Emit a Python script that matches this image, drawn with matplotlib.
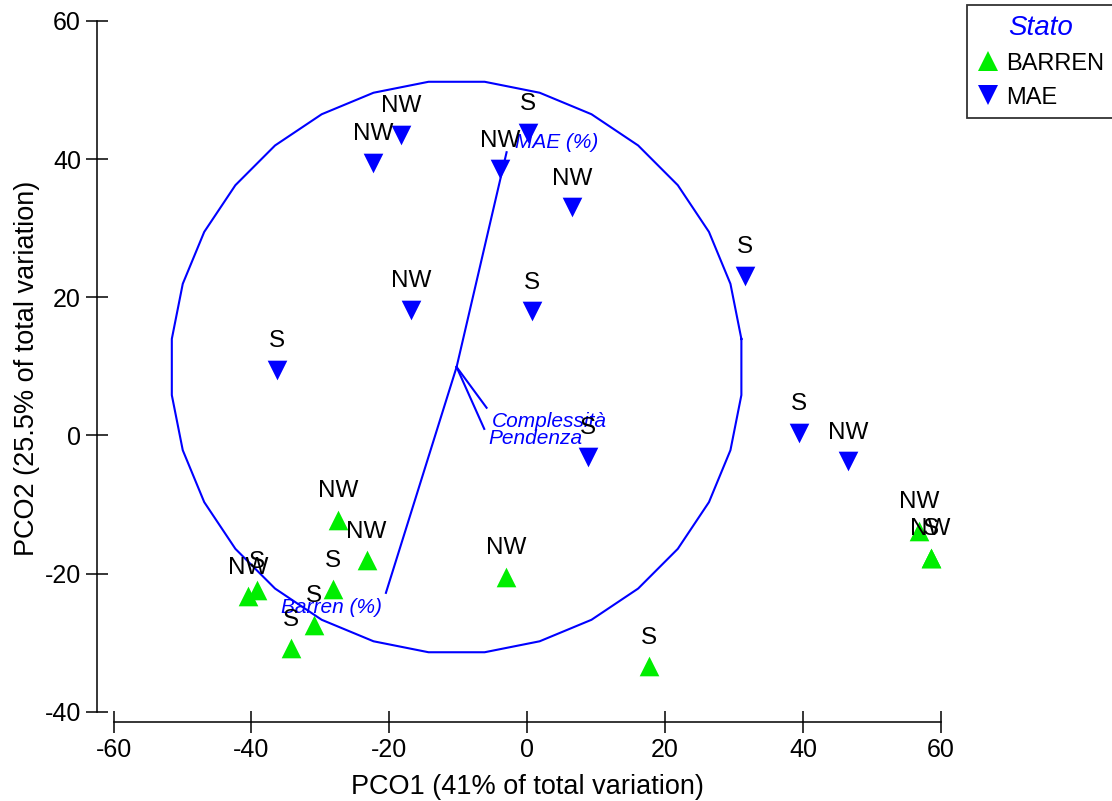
import numpy as np
import matplotlib
matplotlib.use("Agg")
import matplotlib.pyplot as plt
from matplotlib.lines import Line2D

plt.rcParams['font.family'] = ['Liberation Sans', 'DejaVu Sans']
plt.rcParams['axes.unicode_minus'] = False

# PCO scores (MAE = down triangles, BARREN = up triangles)
mae_x = [-18.3, -22.4, 0.1, -3.9, 6.5, 31.6, -16.9, 0.7, -36.3, 8.8, 39.4, 46.5]
mae_y = [43.5, 39.5, 43.8, 38.5, 33.0, 23.1, 18.2, 18.0, 9.5, -3.1, 0.4, -3.75]
mae_lab = ['NW', 'NW', 'S', 'NW', 'NW', 'S', 'NW', 'S', 'S', 'S', 'S', 'NW']

barren_x = [-27.4, -23.3, -28.2, -30.9, -34.2, -39.2, -40.5, -3.1, 17.7, 56.8, 58.5, 58.6]
barren_y = [-12.2, -18.1, -22.3, -27.4, -30.8, -22.4, -23.3, -20.5, -33.4, -13.8, -17.7, -17.7]
barren_lab = ['NW', 'NW', 'S', 'S', 'S', 'S', 'NW', 'NW', 'S', 'NW', 'NW', 'S']

# vector overlay (correlation circle)
circle_center = (-10.25, 9.9)
circle_radius = 41.5
vec_names = ['MAE (%)', 'Barren (%)', 'Complessità', 'Pendenza']
vec_x = [-3.0, -20.5, -5.9, -6.24]
vec_y = [41.0, -22.8, 4.0, 0.94]
vec_lab_x = [-1.8, -21.1, -5.16, -5.65]
vec_lab_y = [42.4, -24.9, 2.0, -0.5]
vec_ha = ['left', 'right', 'left', 'left']

green = '#00ee00'
blue = '#0000ff'

fig = plt.figure(figsize=(11.12, 8.01), dpi=100)
ax = fig.add_axes([97 / 1112, 1 - 722 / 801, (941 - 97) / 1112, (722 - 21) / 801])
ax.set_xlim(-62.4, 60)
ax.set_ylim(-41.5, 60)

# circle as 32-gon
ang = (np.arange(33) + 0.5) * 2 * np.pi / 32
cx, cy = circle_center
ax.plot(cx + circle_radius * np.cos(ang), cy + circle_radius * np.sin(ang),
        color=blue, lw=1.5, zorder=1)
for vx, vy, name, lx, ly, ha in zip(vec_x, vec_y, vec_names, vec_lab_x, vec_lab_y, vec_ha):
    ax.plot([cx, vx], [cy, vy], color=blue, lw=1.5, zorder=1)
    ax.text(lx, ly, name, color=blue, fontsize=15, style='italic',
            ha=ha, va='center', zorder=4)

ax.scatter(barren_x, barren_y, marker='^', s=200, color=green, lw=0, zorder=2, clip_on=False)
ax.scatter(mae_x, mae_y, marker='v', s=200, color=blue, lw=0, zorder=2, clip_on=False)

for xs, ys, labs in [(mae_x, mae_y, mae_lab), (barren_x, barren_y, barren_lab)]:
    for x, y, t in zip(xs, ys, labs):
        ax.annotate(t, (x, y), xytext=(0, 20.5), textcoords='offset points',
                    ha='center', va='center', fontsize=17.5, zorder=5)

# axes styling
for s in ['top', 'right']:
    ax.spines[s].set_visible(False)
ax.spines['left'].set_bounds(-40, 60)
ax.spines['bottom'].set_bounds(-60, 60)
for s in ['left', 'bottom']:
    ax.spines[s].set_linewidth(1.1)
ax.set_xticks(np.arange(-60, 61, 20))
ax.set_yticks(np.arange(-40, 61, 20))
ax.tick_params(direction='inout', length=16, width=1.1, labelsize=18, pad=3.5)

ax.set_xlabel('PCO1 (41% of total variation)', fontsize=19.5)
ax.set_ylabel('PCO2 (25.5% of total variation)', fontsize=19.5)
ax.xaxis.set_label_coords((527.3 - 97) / 844, (722 - 774) / 701)
ax.yaxis.set_label_coords((40 - 97) / 844, (722 - 368) / 701)

handles = [
    Line2D([], [], marker='^', ls='', color=green, markersize=14, markeredgewidth=0),
    Line2D([], [], marker='v', ls='', color=blue, markersize=14, markeredgewidth=0),
]
leg = fig.legend(handles, ['BARREN', 'MAE'], loc='upper left',
                 bbox_to_anchor=(967 / 1112, 1 - 5 / 801), bbox_transform=fig.transFigure,
                 fontsize=17, title='Stato', frameon=True, fancybox=False,
                 borderaxespad=0, borderpad=0.42, handlelength=0.9, handletextpad=0.35,
                 labelspacing=0.5)
leg.get_frame().set_edgecolor('black')
leg.get_frame().set_linewidth(1.3)
leg.get_title().set_fontsize(20)
leg.get_title().set_style('italic')
leg.get_title().set_color(blue)

fig.savefig('out.png', dpi=100)
